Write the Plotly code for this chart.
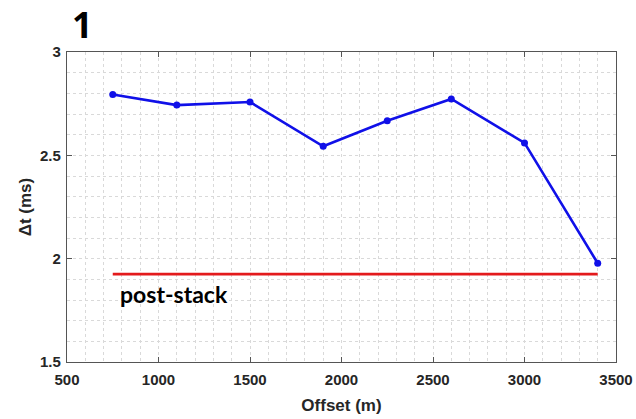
import plotly.graph_objects as go

# Time shift measured per offset
offset_m = [750, 1100, 1500, 1900, 2250, 2600, 3000, 3400]
dt_ms = [2.794, 2.743, 2.758, 2.544, 2.667, 2.773, 2.560, 1.978]

# Post-stack reference level
post_stack_x = [750, 3400]
post_stack_dt = [1.925, 1.925]

x_ticks = [500, 1000, 1500, 2000, 2500, 3000, 3500]
y_ticks = [1.5, 2, 2.5, 3]
y_tick_text = ["1.5", "2", "2.5", "3"]

fig = go.Figure()

fig.add_trace(go.Scatter(
    x=post_stack_x, y=post_stack_dt, mode="lines",
    line=dict(color="#e31a1c", width=2.6), showlegend=False,
))
fig.add_trace(go.Scatter(
    x=offset_m, y=dt_ms, mode="lines+markers",
    line=dict(color="#1010e8", width=2.6),
    marker=dict(color="#1010e8", size=7),
    showlegend=False,
))

fig.add_annotation(
    x=780, y=1.83, xref="x", yref="y", text="post-stack",
    showarrow=False, xanchor="left", yanchor="middle",
    font=dict(family="Lato", size=23, color="#000000", weight="bold"),
)
fig.add_annotation(
    x=0.006, y=1.088, xref="paper", yref="paper", text="1",
    showarrow=False, xanchor="left", yanchor="middle",
    font=dict(family="Open Sans", size=36, color="#000000", weight="bold"),
)

tick_font = dict(family="Liberation Sans", size=15, color="#262626", weight="bold")
title_font = dict(family="Liberation Sans", size=17, color="#262626", weight="bold")
grid_color = "#d9d9d9"

fig.update_xaxes(
    range=[500, 3500], tickvals=x_ticks, automargin=False,
    showline=True, linecolor="#555555", linewidth=1.2, mirror="ticks",
    ticks="inside", ticklen=5, tickcolor="#555555",
    showgrid=True, gridcolor=grid_color, griddash="dot", gridwidth=1,
    minor=dict(dtick=100, showgrid=True, gridcolor=grid_color, griddash="dot", ticks=""),
    tickfont=tick_font, ticklabelstandoff=4, zeroline=False,
    title=dict(text="Offset (m)", font=title_font, standoff=12),
)
fig.update_yaxes(
    range=[1.5, 3], tickvals=y_ticks, ticktext=y_tick_text, automargin=False,
    showline=True, linecolor="#555555", linewidth=1.2, mirror="ticks",
    ticks="inside", ticklen=5, tickcolor="#555555",
    showgrid=True, gridcolor=grid_color, griddash="dot", gridwidth=1,
    minor=dict(dtick=0.1, showgrid=True, gridcolor=grid_color, griddash="dot", ticks=""),
    tickfont=tick_font, ticklabelstandoff=2, zeroline=False,
    title=dict(text="Δt (ms)", font=title_font, standoff=4),
)

fig.update_layout(
    width=636, height=419,
    margin=dict(l=67, r=20, t=52, b=57, autoexpand=False),
    plot_bgcolor="white", paper_bgcolor="white",
)

fig.write_html("out.html")
